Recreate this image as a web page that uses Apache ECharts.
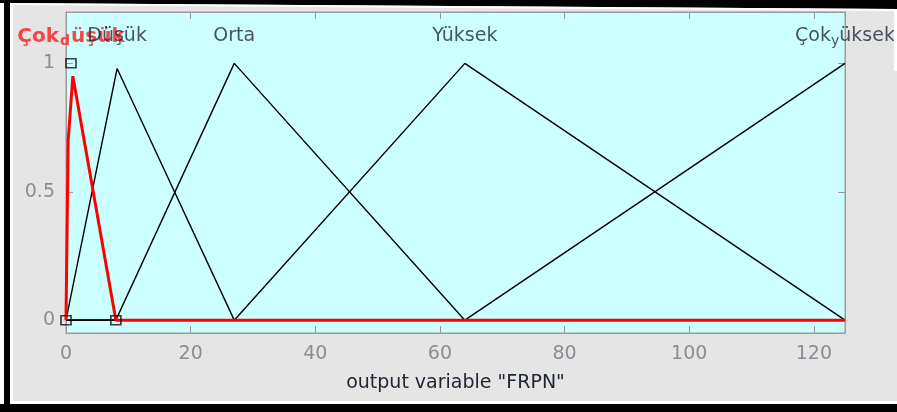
<!DOCTYPE html>
<html>
<head>
<meta charset="utf-8">
<script src="https://cdn.jsdelivr.net/npm/echarts@6/dist/echarts.min.js"></script>
<style>html,body{margin:0;padding:0;background:#fff;}#c{width:897px;height:412px;}</style>
</head>
<body>
<div id="c"></div>
<script>
// ---- data ----
const mfNames = ['Çok_düşük', 'Düşük', 'Orta', 'Yüksek', 'Çok_yüksek'];
const cokDusukX = [0, 0.35, 1.1, 8, 125];
const cokDusukY = [0, 0.7, 0.95, 0, 0];
const dusukX = [0, 8.2, 27, 125];
const dusukY = [0, 0.98, 0, 0];
const ortaX = [0, 8, 27, 64, 125];
const ortaY = [0, 0, 1, 0, 0];
const yuksekX = [0, 27, 64, 125];
const yuksekY = [0, 0, 1, 0];
const cokYuksekX = [0, 64, 125];
const cokYuksekY = [0, 0, 1];
const vertexX = [0, 0.8, 8];
const vertexY = [0, 1, 0];
const labelX = [0.8, 8.2, 27, 64, 125];
const labelY = [1.1, 1.1, 1.1, 1.1, 1.1];
const xTicks = [0, 20, 40, 60, 80, 100, 120];
const yTicks = [0, 0.5, 1];
const xName = 'output variable "FRPN"';

const pairs = (xs, ys) => xs.map((x, i) => [x, ys[i]]);
const FONT = 'DejaVu Sans';

function richName(name, sel) {
  const n = sel ? 'nb' : 'n', s = sel ? 'sb' : 's';
  const i = name.indexOf('_');
  if (i < 0) return '{' + n + '|' + name + '}';
  return '{' + n + '|' + name.slice(0, i) + '}{' + s + '|' + name.charAt(i + 1) + '}{' + n + '|' + name.slice(i + 2) + '}';
}

const chart = echarts.init(document.getElementById('c'), null, {renderer: 'canvas'});
const blackLine = (name, xs, ys) => ({
  name, type: 'line', data: pairs(xs, ys), showSymbol: false, symbol: 'none',
  lineStyle: {color: '#000', width: 1.4}, z: 3, animation: false
});

const axisCommon = {
  axisLine: {show: true, onZero: false, lineStyle: {color: '#9a9a9a', width: 1}},
  splitLine: {show: false}
};

chart.setOption({
  backgroundColor: '#e5e5e5',
  animation: false,
  grid: {left: 66, right: 52, top: 12, bottom: 79, show: true, backgroundColor: '#ccffff', borderColor: '#9a9a9a', borderWidth: 1},
  xAxis: [
    Object.assign({}, axisCommon, {
      type: 'value', min: 0, max: 125, position: 'bottom',
      axisTick: {show: true, inside: true, length: 7, customValues: xTicks, lineStyle: {color: '#9a9a9a'}},
      axisLabel: {customValues: xTicks, margin: 12, color: '#8a8e96', fontSize: 19, fontFamily: FONT},
      name: xName, nameLocation: 'middle', nameGap: 41,
      nameTextStyle: {color: '#1e2430', fontSize: 19, fontFamily: FONT}
    }),
    Object.assign({}, axisCommon, {
      type: 'value', min: 0, max: 125, position: 'top',
      axisTick: {show: true, inside: true, length: 7, customValues: xTicks, lineStyle: {color: '#9a9a9a'}},
      axisLabel: {show: false}
    })
  ],
  yAxis: [
    Object.assign({}, axisCommon, {
      type: 'value', min: -0.05, max: 1.2, position: 'left',
      axisTick: {show: true, inside: true, length: 7, customValues: yTicks, lineStyle: {color: '#9a9a9a'}},
      axisLabel: {customValues: yTicks, margin: 11, color: '#8a8e96', fontSize: 19, fontFamily: FONT}
    }),
    Object.assign({}, axisCommon, {
      type: 'value', min: -0.05, max: 1.2, position: 'right',
      axisTick: {show: true, inside: true, length: 7, customValues: yTicks, lineStyle: {color: '#9a9a9a'}},
      axisLabel: {show: false}
    })
  ],
  series: [
    blackLine(mfNames[1], dusukX, dusukY),
    blackLine(mfNames[2], ortaX, ortaY),
    blackLine(mfNames[3], yuksekX, yuksekY),
    blackLine(mfNames[4], cokYuksekX, cokYuksekY),
    {
      name: mfNames[0], type: 'line', data: pairs(cokDusukX, cokDusukY), showSymbol: false, symbol: 'none',
      lineStyle: {color: '#ff0000', width: 3}, z: 4
    },
    {
      name: 'vertices', type: 'scatter', data: pairs(vertexX, vertexY), symbol: 'rect', symbolSize: [10, 9],
      itemStyle: {color: 'rgba(0,0,0,0)', borderColor: '#111', borderWidth: 1.6}, z: 5
    },
    {
      name: 'labels', type: 'scatter', symbolSize: 0, z: 6,
      data: labelX.map((x, i) => ({
        value: [x, labelY[i]], name: mfNames[i],
        label: {color: i === 0 ? '#ff1a1a' : '#222b3a'}
      })),
      label: {
        show: true, position: 'inside',
        formatter: p => richName(p.name, p.dataIndex === 0),
        fontFamily: FONT, fontSize: 19,
        rich: {
          n: {fontFamily: FONT, fontSize: 19, lineHeight: 22, verticalAlign: 'top'},
          s: {fontFamily: FONT, fontSize: 14, lineHeight: 16, padding: [12, 0, 0, 0], verticalAlign: 'bottom'},
          nb: {fontFamily: FONT, fontSize: 20, fontWeight: 'bold', lineHeight: 22, verticalAlign: 'top'},
          sb: {fontFamily: FONT, fontSize: 14, fontWeight: 'bold', lineHeight: 16, padding: [12, 1, 0, 1], verticalAlign: 'bottom'}
        }
      }
    }
  ],
  graphic: [
    {type: 'rect', shape: {x: 0, y: 0, width: 4, height: 412}, style: {fill: '#fff'}, z: 100},
    {type: 'rect', shape: {x: 4, y: 0, width: 6, height: 412}, style: {fill: '#000'}, z: 100},
    {type: 'rect', shape: {x: 10, y: 4, width: 3, height: 397}, style: {fill: '#fff'}, z: 100},
    {type: 'polygon', shape: {points: [[0, 0], [897, 0], [897, 9], [0, 3]]}, style: {fill: '#000'}, z: 100},
    {type: 'polygon', shape: {points: [[10, 3], [897, 9], [897, 11], [10, 5]]}, style: {fill: '#fff'}, z: 100},
    {type: 'rect', shape: {x: 894, y: 11, width: 3, height: 60}, style: {fill: '#fff'}, z: 100},
    {type: 'rect', shape: {x: 10, y: 401, width: 887, height: 3}, style: {fill: '#fff'}, z: 100},
    {type: 'rect', shape: {x: 0, y: 404, width: 897, height: 8}, style: {fill: '#000'}, z: 100}
  ]
});
</script>
</body>
</html>
